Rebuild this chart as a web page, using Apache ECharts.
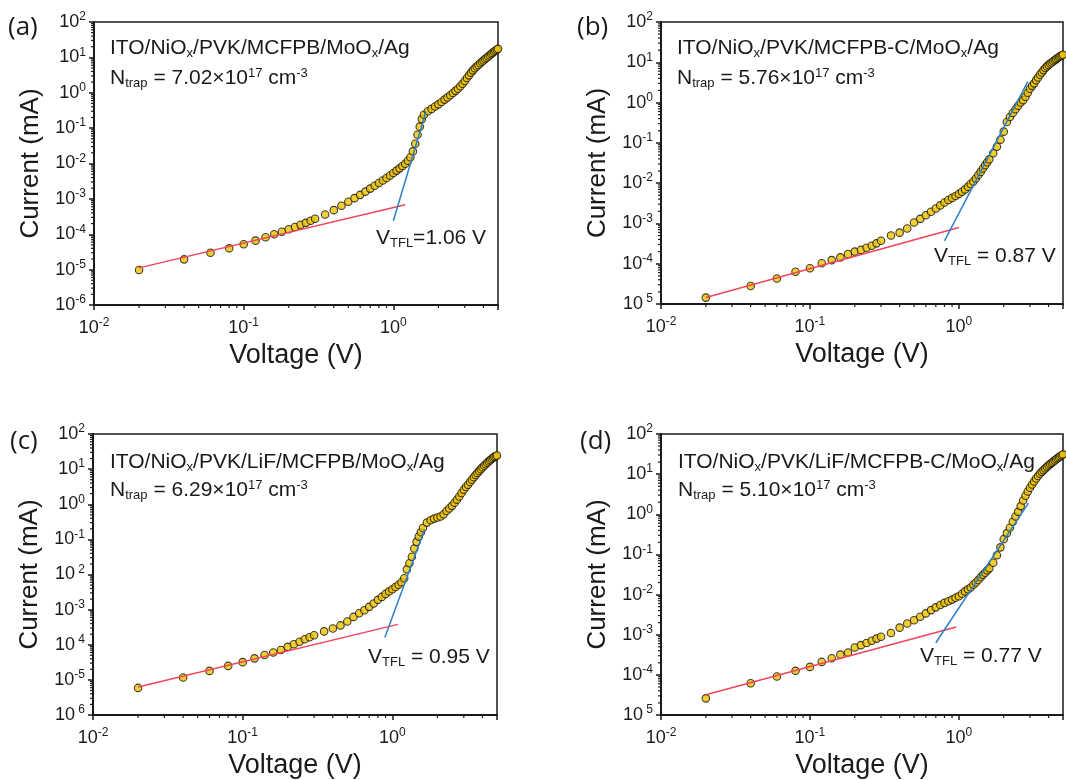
<!DOCTYPE html>
<html>
<head>
<meta charset="utf-8">
<script src="https://cdn.jsdelivr.net/npm/echarts@6/dist/echarts.min.js"></script>
<style>
  html, body { margin: 0; padding: 0; background: #fff; }
  #chart { width: 1066px; height: 780px; }
</style>
</head>
<body>
<div id="chart"></div>
<script>
// sweep voltages (V), shared by the four devices
var voltage = [0.02, 0.04, 0.06, 0.08, 0.10, 0.12, 0.14, 0.16, 0.18, 0.20, 0.22, 0.24, 0.26, 0.28, 0.30,
  0.35, 0.40, 0.45, 0.50, 0.55, 0.60, 0.65, 0.70, 0.75, 0.80, 0.85, 0.90, 0.95, 1.00, 1.05, 1.10, 1.15,
  1.20, 1.25, 1.30, 1.35, 1.40, 1.45, 1.50, 1.55, 1.60, 1.70, 1.80, 1.90, 2.0, 2.1, 2.2, 2.3, 2.4, 2.5,
  2.6, 2.7, 2.8, 2.9, 3.0, 3.1, 3.2, 3.3, 3.4, 3.5, 3.6, 3.7, 3.8, 3.9, 4.0, 4.1, 4.2, 4.3, 4.4, 4.5,
  4.6, 4.7, 4.8, 4.9, 5.0];

// current (mA)
var currentA = [9.8e-6, 1.95e-5, 3.0e-5, 4.0e-5, 5.2e-5, 6.6e-5, 8.2e-5, 1.0e-4, 1.18e-4, 1.38e-4, 1.6e-4, 1.85e-4, 2.1e-4, 2.4e-4, 2.75e-4,
  3.6e-4, 4.8e-4, 6.4e-4, 8.3e-4, 1.05e-3, 1.3e-3, 1.6e-3, 1.95e-3, 2.35e-3, 2.8e-3, 3.3e-3, 3.9e-3, 4.6e-3, 5.4e-3, 6.3e-3, 7.3e-3, 8.5e-3,
  9.8e-3, 1.2e-2, 1.5e-2, 2.2e-2, 3.6e-2, 6.5e-2, 0.11, 0.18, 0.24, 0.30, 0.35, 0.41, 0.47, 0.55, 0.64, 0.74, 0.85, 0.98,
  1.13, 1.3, 1.52, 1.8, 2.15, 2.6, 3.1, 3.7, 4.3, 4.9, 5.5, 6.1, 6.8, 7.5, 8.2, 9.0, 9.8, 10.6, 11.5, 12.4,
  13.4, 14.4, 15.4, 16.4, 17.4];
var currentB = [1.44e-5, 2.8e-5, 4.3e-5, 6.3e-5, 7.7e-5, 1.03e-4, 1.23e-4, 1.44e-4, 1.74e-4, 2.0e-4, 2.2e-4, 2.5e-4, 2.8e-4, 3.2e-4, 3.7e-4,
  5.0e-4, 5.9e-4, 7.5e-4, 1.05e-3, 1.3e-3, 1.6e-3, 1.95e-3, 2.35e-3, 2.8e-3, 3.3e-3, 3.8e-3, 4.3e-3, 4.8e-3, 5.4e-3, 6.1e-3, 7.0e-3, 8.1e-3,
  9.5e-3, 1.1e-2, 1.3e-2, 1.6e-2, 1.9e-2, 2.3e-2, 2.8e-2, 3.3e-2, 3.9e-2, 5.5e-2, 8.0e-2, 0.12, 0.19, 0.33, 0.44, 0.55, 0.68, 0.83,
  1.0, 1.15, 1.4, 1.75, 2.2, 2.6, 3.0, 3.6, 4.2, 4.9, 5.6, 6.4, 7.2, 7.9, 8.6, 9.3, 9.9, 10.6, 11.3, 12.0,
  12.8, 13.5, 14.2, 14.8, 15.4];
var currentC = [5.9e-6, 1.17e-5, 1.8e-5, 2.5e-5, 3.2e-5, 4.1e-5, 5.1e-5, 6.0e-5, 7.1e-5, 8.7e-5, 1.03e-4, 1.22e-4, 1.43e-4, 1.63e-4, 1.86e-4,
  2.4e-4, 2.9e-4, 3.55e-4, 4.6e-4, 6.2e-4, 7.9e-4, 9.6e-4, 1.2e-3, 1.5e-3, 1.9e-3, 2.3e-3, 2.8e-3, 3.3e-3, 3.8e-3, 4.4e-3, 5.1e-3, 6.0e-3,
  7.8e-3, 1.4e-2, 2.1e-2, 3.2e-2, 5.5e-2, 8.5e-2, 0.12, 0.16, 0.21, 0.30, 0.35, 0.39, 0.42, 0.45, 0.52, 0.64, 0.76, 0.9,
  1.1, 1.35, 1.66, 2.1, 2.6, 3.1, 3.6, 4.3, 5.0, 5.9, 6.8, 7.8, 8.8, 10.0, 11.2, 12.5, 13.8, 15.2, 16.6, 18.0,
  19.5, 21, 22.3, 23.4, 24.5];
var currentD = [2.6e-5, 6.2e-5, 9.1e-5, 1.26e-4, 1.58e-4, 2.1e-4, 2.6e-4, 3.2e-4, 3.6e-4, 4.8e-4, 5.5e-4, 6.2e-4, 7.1e-4, 8.0e-4, 8.9e-4,
  1.1e-3, 1.5e-3, 1.9e-3, 2.3e-3, 2.8e-3, 3.4e-3, 4.1e-3, 4.8e-3, 5.5e-3, 6.2e-3, 6.8e-3, 7.5e-3, 8.3e-3, 9.1e-3, 1.05e-2, 1.2e-2, 1.35e-2,
  1.5e-2, 1.75e-2, 2.0e-2, 2.3e-2, 2.7e-2, 3.1e-2, 3.5e-2, 4.0e-2, 4.5e-2, 6.2e-2, 9.5e-2, 0.15, 0.24, 0.34, 0.46, 0.65, 0.88, 1.15,
  1.6, 2.2, 2.9, 3.7, 4.6, 5.5, 6.6, 7.8, 9.0, 10.2, 11.4, 12.6, 13.9, 15.2, 16.5, 17.8, 19.1, 20.5, 22, 23.5,
  25, 26.5, 28, 29.5, 31];

// fitted lines: ohmic (red) and trap-filling (blue), [V, mA] end points
var ohmicFitA = [[0.02, 1.12e-5], [1.2, 6.8e-4]];
var tflFitA = [[1.0, 2.4e-4], [1.65, 0.29]];
var ohmicFitB = [[0.02, 1.45e-5], [1.0, 7.9e-4]];
var tflFitB = [[0.8, 3.7e-4], [2.9, 3.3]];
var ohmicFitC = [[0.02, 6.3e-6], [1.09, 3.8e-4]];
var tflFitC = [[0.89, 1.6e-4], [1.64, 0.19]];
var ohmicFitD = [[0.02, 3.2e-5], [0.96, 1.55e-3]];
var tflFitD = [[0.70, 6.3e-4], [2.93, 1.9]];

// tick label exponents, top to bottom (as printed in the figure)
var xTickSup = ['-2', '-1', '0'];
var yTickSupA = ['2', '1', '0', '-1', '-2', '-3', '-4', '-5', '-6'];
var yTickSupB = ['2', '1', '0', '-1', '-2', '-3', '-4', ' 5'];
var yTickSupC = ['2', '1', '0', '-1', ' 2', '-3', ' 4', '-5', ' 6'];
var yTickSupD = ['2', '1', '0', '-1', '-2', '-3', '-4', ' 5'];

var devices = ['ITO/NiO{sub|x}/PVK/MCFPB/MoO{sub|x}/Ag', 'ITO/NiO{sub|x}/PVK/MCFPB-C/MoO{sub|x}/Ag',
  'ITO/NiO{sub|x}/PVK/LiF/MCFPB/MoO{sub|x}/Ag', 'ITO/NiO{sub|x}/PVK/LiF/MCFPB-C/MoO{sub|x}/Ag'];
var ntrap = ['7.02', '5.76', '6.29', '5.10'];
var vtfl = ['{t|V}{sub|TFL}{t|=1.06 V}', '{t|V}{sub|TFL}{t| = 0.87 V}', '{t|V}{sub|TFL}{t| = 0.95 V}', '{t|V}{sub|TFL}{t| = 0.77 V}'];
var letters = ['(a)', '(b)', '(c)', '(d)'];

var FONT = '"Liberation Sans", Arial, sans-serif';
var INK = '#1a1a1a';

var panels = [
  { grid: { left: 94, top: 22, width: 404, height: 283 }, yMin: 1e-6, current: currentA, ohmic: ohmicFitA, tfl: tflFitA, sup: yTickSupA,
    letter: [8, 15], dev: [110, 37], nt: [110, 67], vt: [376, 227] },
  { grid: { left: 661, top: 22, width: 404, height: 282 }, yMin: 1e-5, current: currentB, ohmic: ohmicFitB, tfl: tflFitB, sup: yTickSupB,
    letter: [577, 15], dev: [677, 37], nt: [677, 67], vt: [934, 245] },
  { grid: { left: 93, top: 434, width: 404, height: 282 }, yMin: 1e-6, current: currentC, ohmic: ohmicFitC, tfl: tflFitC, sup: yTickSupC,
    letter: [10, 429], dev: [110, 451], nt: [110, 479], vt: [368, 646] },
  { grid: { left: 661, top: 434, width: 413, height: 282 }, yMin: 1e-5, current: currentD, ohmic: ohmicFitD, tfl: tflFitD, sup: yTickSupD,
    letter: [580, 429], dev: [678, 451], nt: [678, 479], vt: [920, 645] }
];

var tickRich = {
  b: { fontSize: 18, color: INK, fontFamily: FONT },
  s: { fontSize: 12, color: INK, fontFamily: FONT, padding: [0, 0, 10, 0] }
};
var textRich = {
  t: { fontSize: 21, color: INK, fontFamily: FONT },
  sub: { fontSize: 13, color: INK, fontFamily: FONT, padding: [10, 0, 0, 0] },
  sup: { fontSize: 13, color: INK, fontFamily: FONT, padding: [0, 0, 10, 0] }
};

function isDecade(v) {
  var e = Math.log10(v);
  return Math.abs(e - Math.round(e)) < 1e-6;
}

// 2..9 x 10^k positions between lo and hi, for the small ticks
function minorValues(lo, hi) {
  var out = [];
  for (var k = Math.floor(Math.log10(lo)); k <= Math.ceil(Math.log10(hi)); k++) {
    for (var m = 2; m <= 9; m++) {
      var v = m * Math.pow(10, k);
      if (v > lo && v < hi) out.push(v);
    }
  }
  return out;
}

var grids = [], xAxes = [], yAxes = [], series = [], titles = [];

panels.forEach(function (p, i) {
  grids.push(Object.assign({ show: true, borderColor: INK, borderWidth: 1.5 }, p.grid));

  xAxes.push({
    type: 'log', logBase: 10, gridIndex: i, min: 0.01, max: 5,
    name: 'Voltage (V)', nameLocation: 'middle', nameGap: 37,
    nameTextStyle: { fontSize: 27, color: INK, fontFamily: FONT },
    axisLine: { lineStyle: { color: INK, width: 2 } },
    axisTick: { length: 5, lineStyle: { color: INK, width: 1.5 } },
    splitLine: { show: false },
    axisLabel: {
      margin: 12,
      formatter: function (v) {
        if (!isDecade(v)) return '';
        return '{b|10}{s|' + xTickSup[Math.round(Math.log10(v)) + 2] + '}';
      },
      rich: tickRich
    }
  });

  yAxes.push({
    type: 'log', logBase: 10, gridIndex: i, min: p.yMin, max: 100,
    name: 'Current (mA)', nameLocation: 'middle', nameGap: 50,
    nameTextStyle: { fontSize: 26, color: INK, fontFamily: FONT },
    axisLine: { lineStyle: { color: INK, width: 2 } },
    axisTick: { length: 5, lineStyle: { color: INK, width: 1.5 } },
    splitLine: { show: false },
    axisLabel: {
      margin: 8,
      formatter: function (v) {
        if (!isDecade(v)) return '';
        return '{b|10}{s|' + p.sup[2 - Math.round(Math.log10(v))] + '}';
      },
      rich: tickRich
    }
  });

  series.push({
    type: 'scatter', xAxisIndex: i, yAxisIndex: i,
    data: voltage.map(function (v, k) { return [v, p.current[k]]; }),
    symbolSize: 7.5,
    itemStyle: { color: '#eec200', borderColor: '#111', borderWidth: 1.1 },
    z: 2
  });
  series.push({
    type: 'line', xAxisIndex: i, yAxisIndex: i, data: p.ohmic, showSymbol: false,
    lineStyle: { color: '#f2445a', width: 1.5 }, z: 3
  });
  series.push({
    type: 'line', xAxisIndex: i, yAxisIndex: i, data: p.tfl, showSymbol: false,
    lineStyle: { color: '#2b7fc8', width: 1.5 }, z: 3
  });

  var minor = minorValues(0.01, 5).map(function (v) { return [v, p.yMin, 0]; })
    .concat(minorValues(p.yMin, 100).map(function (v) { return [0.01, v, 1]; }));
  series.push({
    type: 'custom', xAxisIndex: i, yAxisIndex: i, clip: false, silent: true, data: minor,
    renderItem: function (params, api) {
      var pt = api.coord([api.value(0), api.value(1)]);
      var onX = api.value(2) === 0;
      return {
        type: 'line',
        shape: onX ? { x1: pt[0], y1: pt[1], x2: pt[0], y2: pt[1] + 3 }
                   : { x1: pt[0], y1: pt[1], x2: pt[0] - 3, y2: pt[1] },
        style: { stroke: INK, lineWidth: 1.2 }
      };
    }
  });

  titles.push({ left: p.letter[0], top: p.letter[1], text: letters[i], padding: 0,
    textStyle: { fontSize: 26, fontWeight: 'normal', color: INK, fontFamily: '"Open Sans", sans-serif' } });
  titles.push({ left: p.dev[0], top: p.dev[1], text: devices[i], padding: 0,
    textStyle: { fontSize: 21, fontWeight: 'normal', color: INK, fontFamily: FONT, rich: textRich } });
  titles.push({ left: p.nt[0], top: p.nt[1], text: 'N{sub|trap} = ' + ntrap[i] + '×10{sup|17} cm{sup|-3}', padding: 0,
    textStyle: { fontSize: 21, fontWeight: 'normal', color: INK, fontFamily: FONT, rich: textRich } });
  titles.push({ left: p.vt[0], top: p.vt[1], text: vtfl[i], padding: 0,
    textStyle: { fontSize: 21, fontWeight: 'normal', color: INK, fontFamily: FONT, rich: textRich } });
});

var myChart = echarts.init(document.getElementById('chart'));
myChart.setOption({
  animation: false,
  backgroundColor: '#fff',
  title: titles,
  grid: grids,
  xAxis: xAxes,
  yAxis: yAxes,
  series: series
});
window.addEventListener('resize', function () {
  myChart.resize();
});
</script>
</body>
</html>
